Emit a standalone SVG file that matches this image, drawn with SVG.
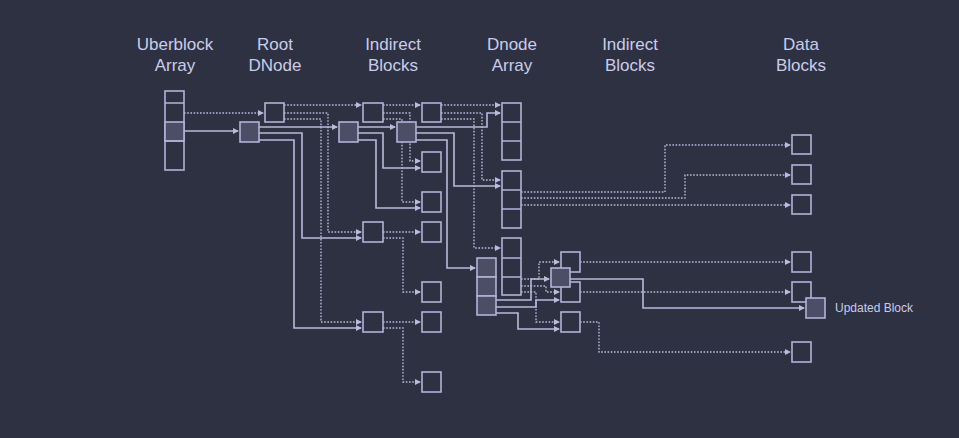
<svg xmlns="http://www.w3.org/2000/svg" width="959" height="438" viewBox="0 0 959 438">
<defs>
<marker id="a" markerWidth="6" markerHeight="6" refX="5" refY="3" orient="auto" markerUnits="userSpaceOnUse"><path d="M0,0 L6,3 L0,6 Z" fill="#b7bbdc"/></marker>
<style>
.b{fill:none;stroke:#b0b5d8;stroke-width:1.6}
.h{fill:#4b4e64;stroke:#b0b5d8;stroke-width:1.6}
.s{fill:none;stroke:#b7bbdc;stroke-width:1.6;marker-end:url(#a)}
.d{fill:none;stroke:#b7bbdc;stroke-width:1.4;stroke-dasharray:1.6 1.6;marker-end:url(#a)}
text{font-family:"Liberation Sans",Arial,sans-serif;fill:#c9cdea}
.t{font-size:17px;text-anchor:middle}
</style>
</defs>
<rect width="959" height="438" fill="#2e3142"/>
<g id="headers">
<text class="t" x="175" y="50">Uberblock</text><text class="t" x="175" y="71">Array</text>
<text class="t" x="275" y="50">Root</text><text class="t" x="275" y="71">DNode</text>
<text class="t" x="393" y="50">Indirect</text><text class="t" x="393" y="71">Blocks</text>
<text class="t" x="512" y="50">Dnode</text><text class="t" x="512" y="71">Array</text>
<text class="t" x="630" y="50">Indirect</text><text class="t" x="630" y="71">Blocks</text>
<text class="t" x="801" y="50">Data</text><text class="t" x="801" y="71">Blocks</text>
</g>
<g id="connectors">
<path class="d" d="M184,113H263"/>
<path class="s" d="M184,131H238"/>
<path class="d" d="M284,105H361"/>
<path class="d" d="M284,113H328V232H361"/>
<path class="d" d="M284,119H321V322H361"/>
<path class="s" d="M259,127H337"/>
<path class="s" d="M259,133H302V238H361"/>
<path class="s" d="M259,140H294V328H361"/>
<path class="d" d="M383,105H420"/>
<path class="d" d="M383,113H410V161H420"/>
<path class="d" d="M383,119H402V202H420"/>
<path class="s" d="M358,127H395"/>
<path class="s" d="M358,133H383V168H420"/>
<path class="s" d="M358,140H376V208H420"/>
<path class="d" d="M441,105H500"/>
<path class="d" d="M441,113H482V180H500"/>
<path class="d" d="M441,119H474V248H500"/>
<path class="s" d="M416,127H487V113H500"/>
<path class="s" d="M416,133H454V186H500"/>
<path class="s" d="M416,140H447V268H475"/>
<path class="d" d="M383,232H420"/>
<path class="d" d="M383,238H403V292H420"/>
<path class="d" d="M383,322H420"/>
<path class="d" d="M383,328H403V382H420"/>
<path class="d" d="M521,192H665V145H790"/>
<path class="d" d="M521,198H685V175H790"/>
<path class="d" d="M521,205H790"/>
<path class="d" d="M521,279H539V262H559"/>
<path class="d" d="M521,286H546V292H559"/>
<path class="d" d="M521,292H536V322H559"/>
<path class="s" d="M496,300H531V279H549"/>
<path class="s" d="M496,307H536V300H559"/>
<path class="s" d="M496,313H518V329H559"/>
<path class="d" d="M580,262H790"/>
<path class="d" d="M580,292H790"/>
<path class="d" d="M580,322H599V352H790"/>
<path class="s" d="M570,279H643V308H804"/>
</g>
<g id="uberblock"><rect class="b" x="165" y="91" width="19" height="79"/><rect class="h" x="165" y="122" width="19" height="19"/><path class="b" d="M165,103H184M165,141H184"/></g>
<g id="root-old"><rect class="b" x="265" y="103" width="19" height="19"/></g>
<g id="root-new"><rect class="h" x="240" y="122" width="19" height="20"/></g>
<g id="ind1-old"><rect class="b" x="363" y="103" width="20" height="19"/></g>
<g id="ind1-new"><rect class="h" x="339" y="122" width="19" height="20"/></g>
<g id="ind2-old"><rect class="b" x="422" y="103" width="19" height="19"/></g>
<g id="ind2-new"><rect class="h" x="397" y="122" width="19" height="20"/></g>
<g id="ind-boxes">
<rect class="b" x="422" y="152" width="19" height="20"/>
<rect class="b" x="422" y="192" width="19" height="20"/>
<rect class="b" x="422" y="222" width="19" height="20"/>
<rect class="b" x="363" y="222" width="20" height="20"/>
<rect class="b" x="422" y="282" width="19" height="20"/>
<rect class="b" x="422" y="312" width="19" height="20"/>
<rect class="b" x="363" y="312" width="20" height="20"/>
<rect class="b" x="422" y="372" width="19" height="20"/>
</g>
<g id="dnode1"><rect class="b" x="502" y="103" width="19" height="57"/><path class="b" d="M502,122H521M502,141H521"/></g>
<g id="dnode2"><rect class="b" x="502" y="171" width="19" height="57"/><path class="b" d="M502,190H521M502,209H521"/></g>
<g id="dnode3"><rect class="b" x="502" y="238" width="19" height="57"/><path class="b" d="M502,258H521M502,277H521"/></g>
<g id="dnode-new"><rect class="h" x="477" y="258" width="19" height="19"/><rect class="h" x="477" y="277" width="19" height="19"/><rect class="h" x="477" y="296" width="19" height="19"/></g>
<g id="ind-right">
<rect class="b" x="561" y="252" width="19" height="20"/>
<rect class="b" x="561" y="282" width="19" height="20"/>
<rect class="b" x="561" y="312" width="19" height="20"/>
<rect class="h" x="551" y="268" width="19" height="19"/>
</g>
<g id="data">
<rect class="b" x="792" y="135" width="19" height="19"/>
<rect class="b" x="792" y="165" width="19" height="19"/>
<rect class="b" x="792" y="195" width="19" height="19"/>
<rect class="b" x="792" y="252" width="19" height="20"/>
<rect class="b" x="792" y="282" width="19" height="20"/>
<rect class="b" x="792" y="342" width="19" height="20"/>
</g>
<g id="updated"><rect class="h" x="806" y="298" width="19" height="20"/><text x="835" y="312" font-size="12">Updated Block</text></g>
</svg>
